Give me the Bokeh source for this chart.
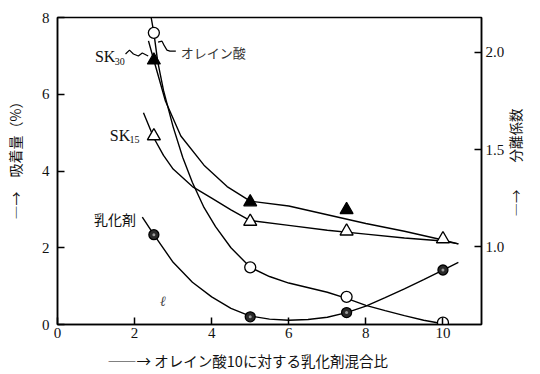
import math
from bokeh.plotting import figure
from bokeh.models import Range1d, LinearAxis, FixedTicker, PrintfTickFormatter, Label
from bokeh.embed import file_html
from bokeh.resources import INLINE

# ---------------- data ----------------
ratio = [2.5, 5.0, 7.5, 10.0]                 # 乳化剤混合比 (オレイン酸10に対する)
oleic_ads = [7.6, 1.49, 0.72, 0.05]           # オレイン酸 吸着量 (%)
emul_ads = [2.34, 0.20, 0.31, 1.42]           # 乳化剤 吸着量 (%)
sk30_ratio = [2.5, 5.0, 7.5]
sk30_sep = [1.96, 1.23, 1.19]                 # SK30 分離係数
sk15_sep = [1.57, 1.13, 1.08, 1.04]           # SK15 分離係数

# hand-drawn smooth curves
oleic_cx = [2.43, 2.5, 2.6, 2.75, 3.0, 3.25, 3.5, 3.8, 4.1, 4.5, 5.0, 5.5, 6.0, 7.0, 7.5, 8.0, 8.5, 9.0, 9.5, 10.0]
oleic_cy = [8.0, 7.6, 6.85, 6.1, 5.15, 4.35, 3.7, 3.05, 2.55, 2.0, 1.49, 1.25, 1.08, 0.84, 0.68, 0.5, 0.36, 0.23, 0.11, 0.02]
emul_cx = [2.2, 2.5, 3.0, 3.5, 4.0, 4.5, 5.0, 5.5, 6.0, 6.5, 7.0, 7.5, 8.0, 8.5, 9.0, 9.5, 10.0, 10.4]
emul_cy = [2.8, 2.34, 1.62, 1.1, 0.72, 0.42, 0.22, 0.14, 0.11, 0.13, 0.19, 0.31, 0.48, 0.7, 0.93, 1.17, 1.42, 1.62]
sk30_cx = [2.36, 2.5, 2.8, 3.2, 3.8, 4.4, 5.0, 6.0, 7.0, 8.0, 9.0, 10.0, 10.4]
sk30_cy = [2.06, 1.96, 1.75, 1.57, 1.42, 1.31, 1.235, 1.21, 1.165, 1.12, 1.08, 1.035, 1.015]
sk15_cx = [2.23, 2.5, 2.75, 3.0, 3.5, 4.0, 4.5, 5.0, 6.0, 7.0, 8.0, 9.0, 10.0, 10.4]
sk15_cy = [1.69, 1.56, 1.47, 1.40, 1.31, 1.25, 1.19, 1.135, 1.11, 1.085, 1.065, 1.045, 1.03, 1.015]

x_ticks = [0, 2, 4, 6, 8, 10]
y_ticks = [0, 2, 4, 6, 8]
y2_ticks = [1.0, 1.5, 2.0]

# ---------------- figure ----------------
W, H = 538, 373
FL, FR, FT, FB = 57, 487, 17, 328   # frame edges in canvas pixels
XMAX, YMAX = 11.0, 8.0
Y2MIN, Y2MAX = 0.6, 2.18

p = figure(width=W, height=H, output_backend="svg", toolbar_location=None,
           x_range=Range1d(0, XMAX), y_range=Range1d(0, YMAX),
           min_border_left=FL, min_border_right=W - FR,
           min_border_top=FT, min_border_bottom=H - FB)
p.extra_y_ranges = {"sep": Range1d(Y2MIN, Y2MAX)}
p.grid.visible = False
p.outline_line_color = "black"
p.outline_line_width = 1.5
p.background_fill_color = "white"
p.border_fill_color = "white"

NUMFONT = "Liberation Serif"
JPFONT = "Noto Sans CJK JP"
SP = "\u3000"

def style_axis(ax, ticks):
    ax.ticker = FixedTicker(ticks=ticks)
    ax.major_tick_in = 7
    ax.major_tick_out = 0
    ax.minor_tick_line_color = None
    ax.axis_line_color = "black"
    ax.axis_line_width = 1.5
    ax.major_tick_line_color = "black"
    ax.major_tick_line_width = 1.5
    ax.major_label_text_font = NUMFONT
    ax.major_label_text_font_size = "15px"
    ax.major_label_text_color = "#111111"
    ax.axis_label_text_font = JPFONT
    ax.axis_label_text_font_style = "normal"
    ax.axis_label_text_color = "#111111"

xax = p.xaxis[0]
style_axis(xax, x_ticks)
xax.major_label_standoff = 3
xax.axis_label = "――→ " + "オレイン酸10に対する乳化剤混合比" + SP * 3
xax.axis_label_text_font_size = "14.5px"
xax.axis_label_standoff = 9

yax = p.yaxis[0]
style_axis(yax, y_ticks)
yax.major_label_standoff = 8
yax.axis_label = SP * 2 + "―→" + SP + "吸着量（%）"
yax.axis_label_text_font_size = "14px"
yax.axis_label_standoff = 14

rax = LinearAxis(y_range_name="sep")
style_axis(rax, y2_ticks)
rax.formatter = PrintfTickFormatter(format="%.1f")
rax.major_label_standoff = 4
rax.axis_label_text_font_size = "13.5px"
rax.axis_label_standoff = 8
rax.axis_label_orientation = math.pi / 2
try:
    rax.axis_label_align = "start"      # anchor the label at the bottom of the axis
    rax.axis_label = SP * 8 + "―→" + SP * 2 + "分離係数"
except Exception:
    rax.axis_label = SP + "―→" + SP * 2 + "分離係数"
p.add_layout(rax, "right")

# ---------------- curves ----------------
LW = 1.4
p.line(oleic_cx, oleic_cy, line_color="black", line_width=LW)
p.line(emul_cx, emul_cy, line_color="black", line_width=LW)
p.line(sk30_cx, sk30_cy, line_color="black", line_width=LW, y_range_name="sep")
p.line(sk15_cx, sk15_cy, line_color="black", line_width=LW, y_range_name="sep")

# ---------------- markers ----------------
p.scatter(ratio, oleic_ads, marker="circle", size=11, fill_color="white",
          line_color="black", line_width=1.3)
p.scatter(ratio, emul_ads, marker="circle", size=10, fill_color="#2a2a2a",
          line_color="black", line_width=1.3)
p.scatter(ratio, emul_ads, marker="circle", size=3, fill_color="#9a9a9a",
          line_color=None)
p.scatter(sk30_ratio, sk30_sep, marker="triangle", size=13, fill_color="black",
          line_color="black", line_width=1.2, y_range_name="sep")
p.scatter(ratio, sk15_sep, marker="triangle", size=13, fill_color="white",
          line_color="black", line_width=1.4, y_range_name="sep")

# ---------------- annotations (canvas-pixel helpers) ----------------
def dx(px):
    return (px - FL) / (FR - FL) * XMAX

def dy(py):
    return (FB - py) / (FB - FT) * YMAX

def add_text(px, py, txt, size, font, align="left", color="#111111", style="normal"):
    p.add_layout(Label(x=dx(px), y=dy(py), text=txt, text_font=font,
                       text_font_size=f"{size}px", text_align=align,
                       text_baseline="middle", text_color=color,
                       text_font_style=style))

# series labels
add_text(95, 57, "SK", 16, NUMFONT)
add_text(115, 62, "30", 10, NUMFONT)
add_text(182, 52, "オレイン酸", 13, JPFONT, color="#333333")
add_text(110, 137, "SK", 16, NUMFONT)
add_text(130, 141, "15", 10, NUMFONT)
add_text(94, 221, "乳化剤", 14, JPFONT)
add_text(161, 305, "ℓ", 14, NUMFONT, style="italic", color="#444444")

# wavy leader lines
p.line([dx(v) for v in [126, 130, 134, 139, 143, 149]],
       [dy(v) for v in [54, 50, 54, 56, 53, 56]], line_color="black", line_width=1.2)
p.line([dx(v) for v in [159, 163, 165, 168, 171, 177]],
       [dy(v) for v in [42, 41, 45, 50, 51, 51]], line_color="black", line_width=1.2)

open("out.html", "w").write(file_html(p, INLINE))
